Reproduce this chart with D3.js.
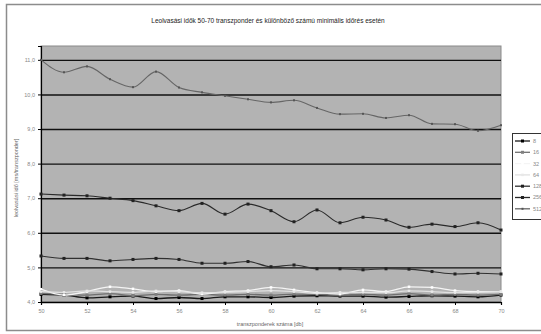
<!DOCTYPE html>
<meta charset="utf-8">
<style>
body { margin: 0; background: #fff; }
text { font-family: "Liberation Sans", Arial, sans-serif; }
</style>
<body>
<script src="https://cdn.jsdelivr.net/npm/d3@7"></script>
<script>

// ---- data ----
var xValues = d3.range(50, 71);           // 50..70 transponders
var xTicks = [50, 52, 54, 56, 58, 60, 62, 64, 66, 68, 70];
var yTicks = [4, 5, 6, 7, 8, 9, 10, 11];
var seriesNames = ["8", "16", "32", "64", "128", "256", "512"];

var s8   = [4.22,4.20,4.12,4.15,4.17,4.10,4.13,4.10,4.15,4.15,4.13,4.17,4.18,4.17,4.17,4.14,4.16,4.18,4.17,4.15,4.20];
var s16  = [4.25,4.22,4.20,4.24,4.18,4.22,4.20,4.22,4.20,4.22,4.20,4.23,4.22,4.20,4.22,4.20,4.24,4.20,4.22,4.20,4.22];
var s32  = [4.37,4.20,4.30,4.44,4.38,4.30,4.33,4.23,4.30,4.33,4.42,4.35,4.27,4.23,4.35,4.30,4.44,4.42,4.33,4.30,4.30];
var s64  = [4.30,4.28,4.32,4.30,4.28,4.32,4.30,4.27,4.28,4.30,4.33,4.30,4.25,4.28,4.28,4.27,4.32,4.30,4.27,4.28,4.30];
var s128 = [5.33,5.26,5.26,5.19,5.23,5.26,5.23,5.12,5.12,5.17,5.02,5.07,4.96,4.96,4.93,4.96,4.95,4.88,4.81,4.83,4.81];
var s256 = [7.12,7.09,7.07,7.00,6.93,6.78,6.64,6.85,6.54,6.83,6.64,6.32,6.66,6.29,6.45,6.37,6.16,6.25,6.18,6.29,6.08];
var s512 = [11.0,10.64,10.81,10.44,10.21,10.66,10.20,10.06,9.96,9.86,9.77,9.83,9.61,9.43,9.44,9.32,9.40,9.15,9.14,8.95,9.11];

var seriesValues = [s8, s16, s32, s64, s128, s256, s512];
var seriesColors = ["#1a1a1a", "#707070", "#f4f4f4", "#e0e0e0", "#303030", "#2a2a2a", "#666666"];
var markerColors = ["#000", "#808080", "#fff", "#e8e8e8", "#222", "#222", "#555"];
var markerSize = [3, 3, 2.5, 2.5, 3, 3, 2];

var W = 541, H = 334;
var margin = {top: 46, right: 40, bottom: 32, left: 41},
    width = 501 - margin.left,
    height = 302 - margin.top;

var svg = d3.select("body").append("svg")
    .attr("width", W)
    .attr("height", H);

// outer chart border
svg.append("rect")
    .attr("x", 6.5).attr("y", 4.5)
    .attr("width", 545).attr("height", 326)
    .attr("fill", "#fff")
    .attr("stroke", "#8c8c8c")
    .attr("stroke-width", 1.5);

// title
svg.append("text")
    .attr("x", 268).attr("y", 23)
    .attr("text-anchor", "middle")
    .attr("font-size", 6.5)
    .attr("fill", "#222")
    .text("Leolvasási idők 50-70 transzponder és különböző számú minimális időrés esetén");

var g = svg.append("g")
    .attr("transform", "translate(" + margin.left + "," + margin.top + ")");

var x = d3.scaleLinear().domain([50, 70]).range([0, width]);
var y = d3.scaleLinear().domain([4, 11.4]).range([height, 0]);

// plot area
g.append("rect")
    .attr("width", width).attr("height", height)
    .attr("fill", "#b3b3b3")
    .attr("stroke", "#8a8a8a");

// gridlines
g.append("g")
    .call(d3.axisLeft(y).tickValues(yTicks).tickSize(-width).tickFormat(""))
    .call(function(a) {
      a.select(".domain").remove();
      a.selectAll("line").attr("stroke", "#111").attr("stroke-width", 1.4);
    });

// axes
var yAxis = g.append("g")
    .call(d3.axisLeft(y).tickValues(yTicks).tickSize(3).tickPadding(3)
      .tickFormat(function(d) { return d3.format(".1f")(d).replace(".", ","); }));
var xAxis = g.append("g")
    .attr("transform", "translate(0," + height + ")")
    .call(d3.axisBottom(x).tickValues(xTicks).tickSize(3).tickPadding(4));
[yAxis, xAxis].forEach(function(a) {
  a.select(".domain").attr("stroke", "#000").attr("stroke-width", 1.2);
  a.selectAll("line").attr("stroke", "#000");
  a.selectAll("text").attr("fill", "#888").attr("font-size", 5.5)
    .attr("font-family", "'Liberation Sans', Arial, sans-serif");
});

// axis titles
svg.append("text")
    .attr("x", 270).attr("y", 326)
    .attr("text-anchor", "middle")
    .attr("font-size", 5.5).attr("fill", "#666")
    .text("transzponderek száma [db]");
svg.append("text")
    .attr("transform", "translate(18,178) rotate(-90)")
    .attr("text-anchor", "middle")
    .attr("font-size", 5.5).attr("fill", "#666")
    .text("leolvasási idő [ms/transzponder]");

// series lines
var line = d3.line()
    .x(function(d, i) { return x(xValues[i]); })
    .y(function(d) { return y(d); })
    .curve(d3.curveMonotoneX);

seriesValues.forEach(function(vals, k) {
  g.append("path")
      .datum(vals)
      .attr("fill", "none")
      .attr("stroke", seriesColors[k])
      .attr("stroke-width", k >= 4 ? 1.1 : 1.3)
      .attr("d", line);
  var s = markerSize[k];
  g.selectAll(".m" + k)
      .data(vals)
      .enter().append("rect")
      .attr("class", "m" + k)
      .attr("x", function(d, i) { return x(xValues[i]) - s / 2; })
      .attr("y", function(d) { return y(d) - s / 2; })
      .attr("width", s).attr("height", s)
      .attr("fill", markerColors[k]);
});

// legend
var lg = svg.append("g").attr("transform", "translate(512,133)");
lg.append("rect")
    .attr("x", 0.5).attr("y", 0.5)
    .attr("width", 40).attr("height", 86)
    .attr("fill", "#fff")
    .attr("stroke", "#333");
var item = lg.selectAll(".item")
    .data(seriesNames)
    .enter().append("g")
    .attr("transform", function(d, i) { return "translate(0," + (8 + i * 11.3) + ")"; });
item.append("line")
    .attr("x1", 3).attr("x2", 18)
    .attr("stroke", function(d, i) { return seriesColors[i]; })
    .attr("stroke-width", 1.3);
item.append("rect")
    .attr("x", function(d, i) { return 10.5 - markerSize[i] / 2; })
    .attr("y", function(d, i) { return -markerSize[i] / 2; })
    .attr("width", function(d, i) { return markerSize[i]; })
    .attr("height", function(d, i) { return markerSize[i]; })
    .attr("fill", function(d, i) { return markerColors[i]; });
item.append("text")
    .attr("x", 21).attr("dy", "0.35em")
    .attr("font-size", 5.5).attr("fill", "#888")
    .text(function(d) { return d; });

</script>
</body>
